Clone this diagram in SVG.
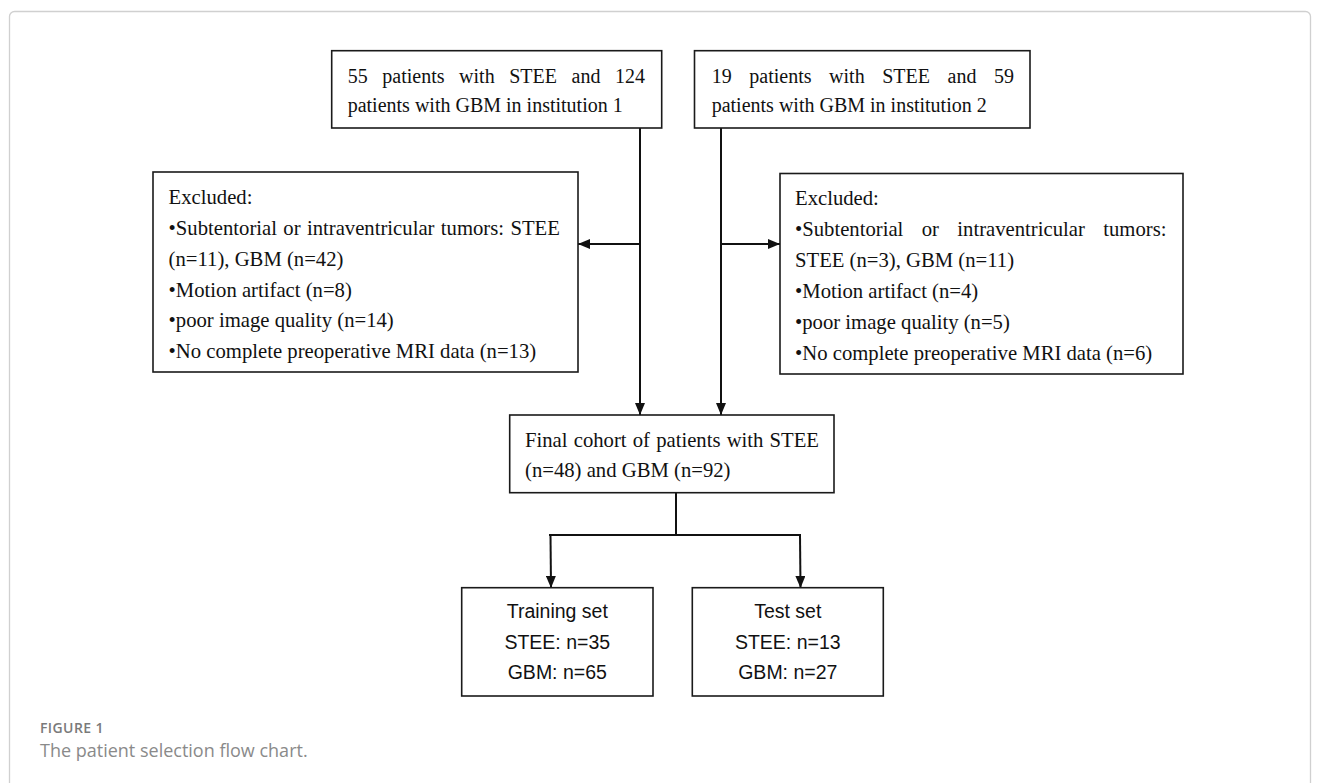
<svg xmlns="http://www.w3.org/2000/svg" width="1320" height="783" viewBox="0 0 1320 783">
<style>
.box{fill:#fff;stroke:#1a1a1a;stroke-width:1.6}
.serif{font-family:"Liberation Serif","Times New Roman",serif;font-size:20.7px;fill:#111}
.top{font-size:20px}
.sans{font-family:"Liberation Sans",Arial,sans-serif;font-size:19.5px;fill:#111;text-anchor:middle}
.conn{stroke:#111;stroke-width:2;fill:none}
.cap1{font-family:"Open Sans","Liberation Sans",sans-serif;font-size:14px;font-weight:600;fill:#7a7a7a;letter-spacing:0.4px}
.cap2{font-family:"Open Sans","Liberation Sans",sans-serif;font-size:18px;fill:#8a8a8a}
</style>
<defs>
<marker id="ah" markerUnits="userSpaceOnUse" markerWidth="12" markerHeight="10" refX="12" refY="5" orient="auto">
<path d="M0,0 L12,5 L0,10 z" fill="#111"/>
</marker>
</defs>
<rect x="9.5" y="11.5" width="1301" height="820" rx="5" fill="none" stroke="#d0d0d0" stroke-width="1.3"/>

<g id="connectors">
<line class="conn" x1="640" y1="128" x2="640" y2="415" marker-end="url(#ah)"/>
<line class="conn" x1="721" y1="128" x2="721" y2="415" marker-end="url(#ah)"/>
<line class="conn" x1="640" y1="244" x2="578" y2="244" marker-end="url(#ah)"/>
<line class="conn" x1="721" y1="244" x2="780" y2="244" marker-end="url(#ah)"/>
<polyline class="conn" points="676,493 676,535"/>
<polyline class="conn" points="549,535 801,535"/>
<line class="conn" x1="550.5" y1="535" x2="551" y2="588" marker-end="url(#ah)"/>
<line class="conn" x1="800" y1="535" x2="800.5" y2="588" marker-end="url(#ah)"/>
</g>

<g id="inst1">
<rect class="box" x="331.7" y="50.7" width="330" height="77.3"/>
<text class="serif top" x="347.7" y="82.7" word-spacing="9.6">55 patients with STEE and 124</text>
<text class="serif top" x="347.7" y="112.3">patients with GBM in institution 1</text>
</g>

<g id="inst2">
<rect class="box" x="694.5" y="50.7" width="335.5" height="77.3"/>
<text class="serif top" x="711.7" y="82.7" word-spacing="12.6">19 patients with STEE and 59</text>
<text class="serif top" x="711.7" y="112.3">patients with GBM in institution 2</text>
</g>

<g id="excl1">
<rect class="box" x="153" y="172" width="425" height="200"/>
<text class="serif" x="168.6" y="203.5">Excluded:</text>
<text class="serif" x="168.6" y="234.5" word-spacing="1.2">•Subtentorial or intraventricular tumors: STEE</text>
<text class="serif" x="168.6" y="265.5">(n=11), GBM (n=42)</text>
<text class="serif" x="168.6" y="296.5">•Motion artifact (n=8)</text>
<text class="serif" x="168.6" y="327">•poor image quality (n=14)</text>
<text class="serif" x="168.6" y="358">•No complete preoperative MRI data (n=13)</text>
</g>

<g id="excl2">
<rect class="box" x="780" y="173.5" width="403" height="200.5"/>
<text class="serif" x="795" y="205">Excluded:</text>
<text class="serif" x="795" y="236" word-spacing="13.2">•Subtentorial or intraventricular tumors:</text>
<text class="serif" x="795" y="267">STEE (n=3), GBM (n=11)</text>
<text class="serif" x="795" y="298">•Motion artifact (n=4)</text>
<text class="serif" x="795" y="328.5">•poor image quality (n=5)</text>
<text class="serif" x="795" y="359.5">•No complete preoperative MRI data (n=6)</text>
</g>

<g id="final">
<rect class="box" x="509.7" y="415" width="324.3" height="77.7"/>
<text class="serif" x="525" y="446.7" word-spacing="1">Final cohort of patients with STEE</text>
<text class="serif" x="525" y="477.3">(n=48) and GBM (n=92)</text>
</g>

<g id="training">
<rect class="box" x="461.7" y="587.7" width="191.3" height="108.3"/>
<text class="sans" x="557.3" y="618.3">Training set</text>
<text class="sans" x="557.3" y="649">STEE: n=35</text>
<text class="sans" x="557.3" y="679.3">GBM: n=65</text>
</g>

<g id="test">
<rect class="box" x="692.3" y="587.7" width="191" height="108.3"/>
<text class="sans" x="787.8" y="618.3">Test set</text>
<text class="sans" x="787.8" y="649">STEE: n=13</text>
<text class="sans" x="787.8" y="679.3">GBM: n=27</text>
</g>

<g id="caption">
<text class="cap1" x="40" y="733">FIGURE 1</text>
<text class="cap2" x="40" y="757">The patient selection flow chart.</text>
</g>
</svg>
